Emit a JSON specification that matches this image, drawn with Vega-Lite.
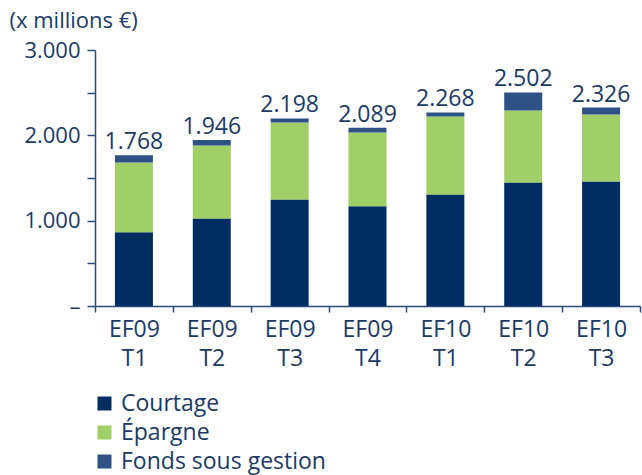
{
  "$schema": "https://vega.github.io/schema/vega-lite/v6.json",
  "width": 545,
  "height": 256,
  "autosize": "none",
  "padding": {"left": 95, "top": 50, "right": 2, "bottom": 169},
  "config": {
    "locale": {"number": {"decimal": ",", "thousands": ".", "grouping": [3], "currency": ["", " €"]}},
    "view": {"stroke": null},
    "font": "Open Sans",
    "background": "#ffffff"
  },
  "datasets": {
    "segments": [
      {"period": "EF09 T1", "series": "Courtage", "ord": 1, "value": 865},
      {"period": "EF09 T1", "series": "Épargne", "ord": 2, "value": 817},
      {"period": "EF09 T1", "series": "Fonds sous gestion", "ord": 3, "value": 86},
      {"period": "EF09 T2", "series": "Courtage", "ord": 1, "value": 1026},
      {"period": "EF09 T2", "series": "Épargne", "ord": 2, "value": 856},
      {"period": "EF09 T2", "series": "Fonds sous gestion", "ord": 3, "value": 64},
      {"period": "EF09 T3", "series": "Courtage", "ord": 1, "value": 1249},
      {"period": "EF09 T3", "series": "Épargne", "ord": 2, "value": 902},
      {"period": "EF09 T3", "series": "Fonds sous gestion", "ord": 3, "value": 47},
      {"period": "EF09 T4", "series": "Courtage", "ord": 1, "value": 1170},
      {"period": "EF09 T4", "series": "Épargne", "ord": 2, "value": 864},
      {"period": "EF09 T4", "series": "Fonds sous gestion", "ord": 3, "value": 55},
      {"period": "EF10 T1", "series": "Courtage", "ord": 1, "value": 1307},
      {"period": "EF10 T1", "series": "Épargne", "ord": 2, "value": 915},
      {"period": "EF10 T1", "series": "Fonds sous gestion", "ord": 3, "value": 46},
      {"period": "EF10 T2", "series": "Courtage", "ord": 1, "value": 1448},
      {"period": "EF10 T2", "series": "Épargne", "ord": 2, "value": 844},
      {"period": "EF10 T2", "series": "Fonds sous gestion", "ord": 3, "value": 210},
      {"period": "EF10 T3", "series": "Courtage", "ord": 1, "value": 1460},
      {"period": "EF10 T3", "series": "Épargne", "ord": 2, "value": 785},
      {"period": "EF10 T3", "series": "Fonds sous gestion", "ord": 3, "value": 81}
    ],
    "totals": [
      {"period": "EF09 T1", "total": 1768},
      {"period": "EF09 T2", "total": 1946},
      {"period": "EF09 T3", "total": 2198},
      {"period": "EF09 T4", "total": 2089},
      {"period": "EF10 T1", "total": 2268},
      {"period": "EF10 T2", "total": 2502},
      {"period": "EF10 T3", "total": 2326}
    ]
  },
  "layer": [
    {
      "data": {"name": "segments"},
      "mark": {"type": "bar", "width": 38},
      "encoding": {
        "x": {
          "field": "period",
          "type": "nominal",
          "sort": null,
          "scale": {"paddingInner": 0, "paddingOuter": 0},
          "axis": {
            "title": null,
            "tickBand": "extent",
            "labelAngle": 0,
            "labelExpr": "split(datum.label, ' ')",
            "labelFontSize": 23,
            "labelLineHeight": 29,
            "labelColor": "#1b3a66",
            "labelPadding": 6,
            "tickSize": 6,
            "tickColor": "#2a4a7a",
            "domainColor": "#2a4a7a",
            "domainWidth": 1.5,
            "tickWidth": 1.5,
            "grid": false
          }
        },
        "y": {
          "field": "value",
          "type": "quantitative",
          "stack": "zero",
          "scale": {"domain": [0, 3000], "nice": false},
          "axis": {
            "values": [0, 500, 1000, 1500, 2000, 2500, 3000],
            "labelExpr": "datum.value == 0 ? '–' : (datum.value % 1000 == 0 ? datum.label : '')",
            "labelFontSize": 22,
            "labelColor": "#1b3a66",
            "labelPadding": 7,
            "tickSize": 8,
            "tickColor": "#2a4a7a",
            "tickWidth": 1.5,
            "domainColor": "#2a4a7a",
            "domainWidth": 1.5,
            "grid": false,
            "title": "(x millions €)",
            "titleAngle": 0,
            "titleAlign": "left",
            "titleBaseline": "alphabetic",
            "titleX": -86,
            "titleY": -23,
            "titleFontSize": 22,
            "titleFontWeight": "normal",
            "titleColor": "#1b3a66"
          }
        },
        "color": {
          "field": "series",
          "type": "nominal",
          "scale": {
            "domain": ["Courtage", "Épargne", "Fonds sous gestion"],
            "range": ["#002e62", "#a0ce67", "#2f5286"]
          },
          "legend": {
            "title": null,
            "orient": "none",
            "legendX": -2,
            "legendY": 342,
            "direction": "vertical",
            "symbolType": "square",
            "symbolSize": 196,
            "symbolStrokeWidth": 0,
            "labelFontSize": 23,
            "labelLimit": 400,
            "labelColor": "#1b3a66",
            "labelOffset": 5,
            "rowPadding": 5,
            "padding": 0
          }
        },
        "order": {"field": "ord", "type": "quantitative"}
      }
    },
    {
      "data": {"name": "totals"},
      "mark": {"type": "text", "baseline": "alphabetic", "dy": -6, "fontSize": 23, "color": "#1b3a66"},
      "encoding": {
        "x": {"field": "period", "type": "nominal", "sort": null},
        "y": {"field": "total", "type": "quantitative"},
        "text": {"field": "total", "type": "quantitative", "format": ",d"}
      }
    }
  ]
}
